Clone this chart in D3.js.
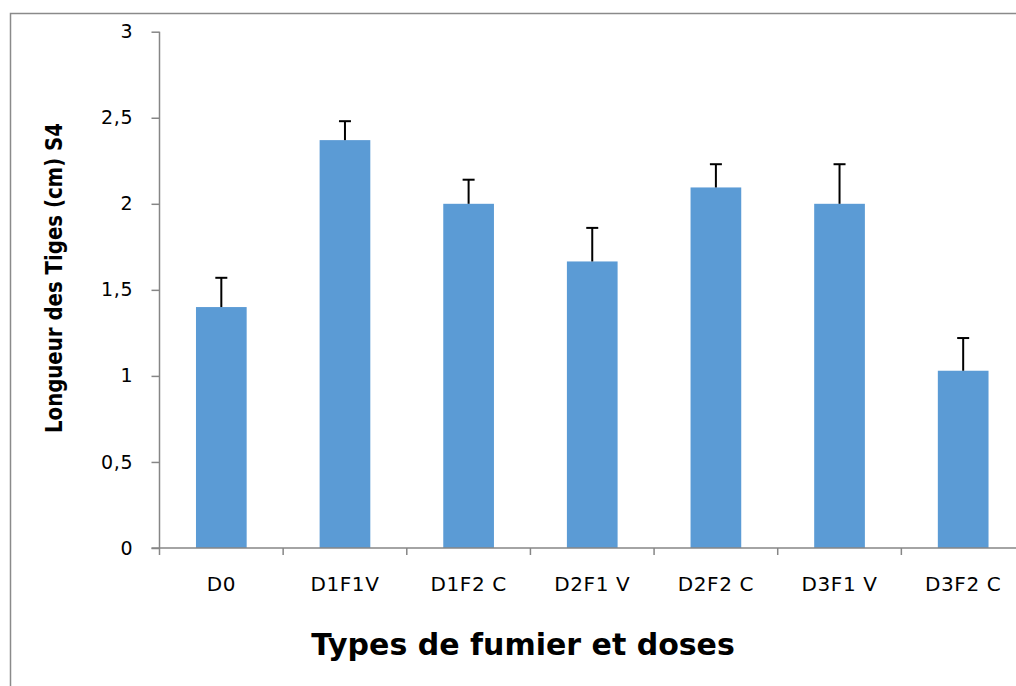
<!DOCTYPE html>
<html>
<head>
<meta charset="utf-8">
<script src="https://cdn.jsdelivr.net/npm/d3@7"></script>
<style>
  body { margin: 0; background: #fff; }
  svg { display: block; }
</style>
</head>
<body>
<div id="chart"></div>
<script>
// data
const categories = ["D0", "D1F1V", "D1F2 C", "D2F1 V", "D2F2 C", "D3F1 V", "D3F2 C"];
const means = [1.40, 2.37, 2.00, 1.665, 2.095, 2.00, 1.03];
const errors = [0.17, 0.11, 0.14, 0.195, 0.135, 0.23, 0.19];
const yTicks = [0, 0.5, 1, 1.5, 2, 2.5, 3];

const W = 1016, H = 686;
const plot = {left: 159.5, right: 1025, top: 31.7, bottom: 548};
const barColor = "#5B9BD5";
const axisColor = "#868686";
const labelFont = "'DejaVu Sans', Verdana, sans-serif";

const svg = d3.select("#chart").append("svg")
  .attr("width", W).attr("height", H);

// chart area border (only top/left visible)
svg.append("rect")
  .attr("x", 10.5).attr("y", 13.5)
  .attr("width", W + 20).attr("height", H + 20)
  .attr("fill", "none").attr("stroke", "#8a8a8a").attr("stroke-width", 1.5);

const x = d3.scaleBand()
  .domain(categories)
  .range([plot.left, plot.right])
  .paddingInner(0.59).paddingOuter(0.295);

const y = d3.scaleLinear().domain([0, 3]).range([plot.bottom, plot.top]);

// y axis
const yAxis = d3.axisLeft(y)
  .tickValues(yTicks)
  .tickSize(8)
  .tickPadding(18)
  .tickFormat(d => String(d).replace(".", ","));

const gy = svg.append("g")
  .attr("transform", "translate(" + plot.left + ",0)")
  .call(yAxis);
gy.select(".domain").attr("stroke", axisColor).attr("stroke-width", 1.5).attr("d", "M0," + plot.top + "V" + plot.bottom);
gy.selectAll(".tick line").attr("stroke", axisColor).attr("stroke-width", 1.5);
gy.selectAll(".tick text")
  .attr("fill", "#000")
  .style("font-family", labelFont)
  .style("font-size", "19px")
  .style("letter-spacing", "0.8px");

// bars
svg.selectAll("rect.bar")
  .data(categories)
  .enter().append("rect")
  .attr("class", "bar")
  .attr("x", d => x(d))
  .attr("width", x.bandwidth())
  .attr("y", (d, i) => y(means[i]))
  .attr("height", (d, i) => y(0) - y(means[i]))
  .attr("fill", barColor);

// error bars (upper only)
const cap = 6;
const eg = svg.selectAll("g.err")
  .data(categories)
  .enter().append("g")
  .attr("class", "err");
eg.append("line")
  .attr("x1", d => x(d) + x.bandwidth() / 2)
  .attr("x2", d => x(d) + x.bandwidth() / 2)
  .attr("y1", (d, i) => y(means[i]))
  .attr("y2", (d, i) => y(means[i] + errors[i]))
  .attr("stroke", "#000").attr("stroke-width", 2);
eg.append("line")
  .attr("x1", d => x(d) + x.bandwidth() / 2 - cap)
  .attr("x2", d => x(d) + x.bandwidth() / 2 + cap)
  .attr("y1", (d, i) => y(means[i] + errors[i]))
  .attr("y2", (d, i) => y(means[i] + errors[i]))
  .attr("stroke", "#000").attr("stroke-width", 2);

// x axis (ticks at category boundaries)
const boundaries = categories.map(d => x(d) - x.step() * x.paddingInner() / 2);
const gx = svg.append("g")
  .attr("transform", "translate(0," + plot.bottom + ")");
gx.append("line")
  .attr("x1", plot.left - 8).attr("x2", W)
  .attr("stroke", axisColor).attr("stroke-width", 1.5);
gx.selectAll("line.tick")
  .data(boundaries)
  .enter().append("line")
  .attr("class", "tick")
  .attr("x1", d => d).attr("x2", d => d)
  .attr("y1", 0).attr("y2", 7)
  .attr("stroke", axisColor).attr("stroke-width", 1.5);
gx.selectAll("text")
  .data(categories)
  .enter().append("text")
  .attr("x", d => x(d) + x.bandwidth() / 2)
  .attr("y", 43)
  .attr("text-anchor", "middle")
  .style("font-family", labelFont)
  .style("font-size", "20px")
  .style("letter-spacing", "0.6px")
  .text(d => d);

// axis titles
svg.append("text")
  .attr("x", 523).attr("y", 655)
  .attr("text-anchor", "middle")
  .style("font-family", labelFont)
  .style("font-weight", "bold")
  .style("font-size", "30px")
  .text("Types de fumier et doses");

svg.append("text")
  .attr("transform", "translate(62,278) rotate(-90)")
  .attr("text-anchor", "middle")
  .attr("textLength", 310)
  .attr("lengthAdjust", "spacingAndGlyphs")
  .style("font-family", "'Liberation Sans Narrow', 'DejaVu Sans Condensed', sans-serif")
  .style("font-weight", "bold")
  .style("font-size", "23px")
  .text("Longueur des Tiges (cm) S4");
</script>
</body>
</html>
